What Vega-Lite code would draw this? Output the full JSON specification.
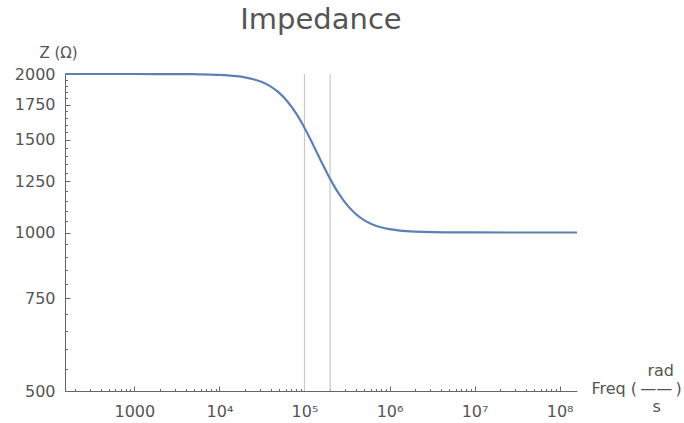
{
  "$schema": "https://vega.github.io/schema/vega-lite/v6.json",
  "autosize": "none",
  "width": 512,
  "height": 317,
  "padding": {"left": 65, "top": 74, "right": 107, "bottom": 32},
  "background": "white",
  "config": {
    "view": {"stroke": null},
    "font": "DejaVu Sans",
    "axis": {"grid": false, "domainColor": "#666666", "tickColor": "#666666", "labelColor": "#555555", "titleColor": "#555555", "labelFont": "DejaVu Sans", "titleFont": "DejaVu Sans", "labelFontSize": 16, "titleFontWeight": "normal", "labelOverlap": false, "labelFlush": false, "labelBound": false}
  },
  "title": {"text": "Impedance", "font": "DejaVu Sans", "fontSize": 29, "fontWeight": "normal", "color": "#555555", "anchor": "middle", "frame": "group", "dy": -6},
  "datasets": {
    "curve": [
      {"freq": 153.1, "Z": 2000.0},
      {"freq": 1000, "Z": 1999.9},
      {"freq": 3162.3, "Z": 1999.3},
      {"freq": 3981.1, "Z": 1998.8},
      {"freq": 5011.9, "Z": 1998.1},
      {"freq": 6309.6, "Z": 1997.0},
      {"freq": 7943.3, "Z": 1995.3},
      {"freq": 10000, "Z": 1992.6},
      {"freq": 12589, "Z": 1988.3},
      {"freq": 15849, "Z": 1981.5},
      {"freq": 19953, "Z": 1971.1},
      {"freq": 25119, "Z": 1955.0},
      {"freq": 31623, "Z": 1930.6},
      {"freq": 39811, "Z": 1894.6},
      {"freq": 50119, "Z": 1843.3},
      {"freq": 63096, "Z": 1773.6},
      {"freq": 79433, "Z": 1685.1},
      {"freq": 100000, "Z": 1581.1},
      {"freq": 125893, "Z": 1469.9},
      {"freq": 158489, "Z": 1361.7},
      {"freq": 199526, "Z": 1265.8},
      {"freq": 251189, "Z": 1187.6},
      {"freq": 316228, "Z": 1128.2},
      {"freq": 398107, "Z": 1085.4},
      {"freq": 501187, "Z": 1055.9},
      {"freq": 630957, "Z": 1036.1},
      {"freq": 794328, "Z": 1023.1},
      {"freq": 1000000, "Z": 1014.7},
      {"freq": 1258925, "Z": 1009.4},
      {"freq": 1584893, "Z": 1005.9},
      {"freq": 1995262, "Z": 1003.8},
      {"freq": 2511886, "Z": 1002.4},
      {"freq": 3162278, "Z": 1001.5},
      {"freq": 5623413, "Z": 1000.5},
      {"freq": 10000000, "Z": 1000.15},
      {"freq": 160000000, "Z": 1000.0}
    ],
    "rules": [
      {"freq": 100000},
      {"freq": 200000}
    ]
  },
  "encoding": {
    "x": {
      "field": "freq",
      "type": "quantitative",
      "scale": {"type": "log", "domain": [153, 160000000], "nice": false},
      "axis": {
        "values": [200,300,400,500,600,700,800,900,1000,2000,3000,4000,5000,6000,7000,8000,9000,10000,20000,30000,40000,50000,60000,70000,80000,90000,100000,200000,300000,400000,500000,600000,700000,800000,900000,1000000,2000000,3000000,4000000,5000000,6000000,7000000,8000000,9000000,10000000,20000000,30000000,40000000,50000000,60000000,70000000,80000000,90000000,100000000],
        "labelExpr": "datum.value == 1000 ? '1000' : (indexof([10000,100000,1000000,10000000,100000000], datum.value) >= 0 ? '10' + ['⁴','⁵','⁶','⁷','⁸'][indexof([10000,100000,1000000,10000000,100000000], datum.value)] : '')",
        "tickSize": {"condition": {"test": "indexof([1000,10000,100000,1000000,10000000,100000000], datum.value) >= 0", "value": -5}, "value": -2.5},
        "labelPadding": 17,
        "title": ["\u200b\u00a0\u00a0\u00a0\u00a0\u00a0\u00a0\u00a0\u00a0\u00a0\u00a0\u00a0rad", "Freq (\u2009——\u2009)", "\u200b\u00a0\u00a0\u00a0\u00a0\u00a0\u00a0\u00a0\u00a0\u00a0\u00a0\u00a0\u00a0s"],
        "titleFontSize": 16,
        "titleLineHeight": 18,
        "titleAlign": "left",
        "titleBaseline": "middle",
        "titleX": 526,
        "titleY": -21,
        "titleAngle": 0
      }
    }
  },
  "layer": [
    {
      "data": {"name": "rules"},
      "mark": {"type": "rule", "color": "#c8c8c8", "strokeWidth": 1.2},
      "encoding": {}
    },
    {
      "data": {"name": "curve"},
      "mark": {"type": "line", "color": "#5E81B5", "strokeWidth": 2.2, "interpolate": "monotone"},
      "encoding": {
        "y": {
          "field": "Z",
          "type": "quantitative",
          "scale": {"type": "log", "domain": [500, 2000], "nice": false},
          "axis": {
            "values": [500,550,600,650,700,750,800,850,900,950,1000,1050,1100,1150,1200,1250,1300,1350,1400,1450,1500,1550,1600,1650,1700,1750,1800,1850,1900,1950,2000],
            "labelExpr": "datum.value % 250 == 0 ? '' + datum.value : ''",
            "tickSize": {"condition": {"test": "datum.value % 250 == 0", "value": -5}, "value": -2.5},
            "labelPadding": 15,
            "title": "Z (Ω)",
            "titleFontSize": 15,
            "titleAngle": 0,
            "titleAlign": "center",
            "titleBaseline": "middle",
            "titleX": -7,
            "titleY": -22
          }
        }
      }
    }
  ]
}
